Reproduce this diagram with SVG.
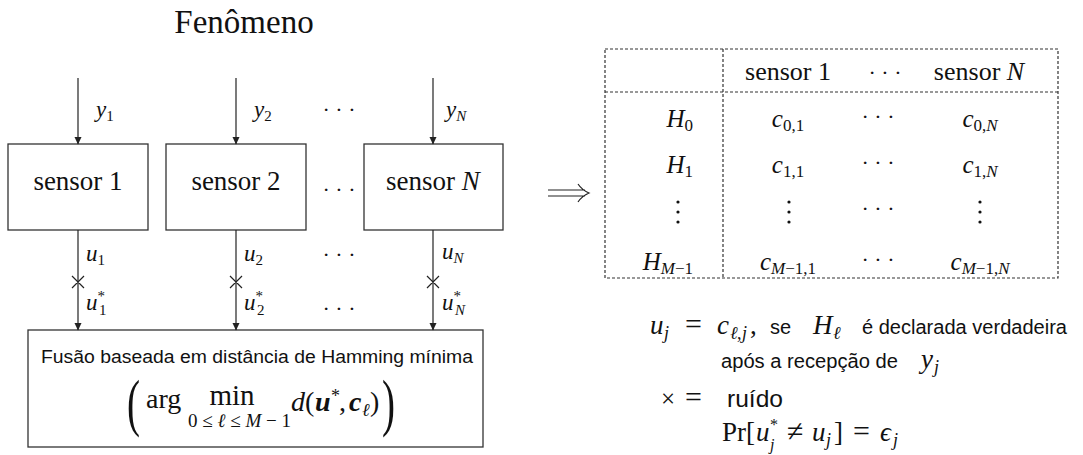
<svg xmlns="http://www.w3.org/2000/svg" width="1083" height="455" viewBox="0 0 1083 455">
<style>
.s{font-family:"Liberation Serif","DejaVu Serif",serif;fill:#111}
.i{font-style:italic}
.a{font-family:"Liberation Sans",Arial,sans-serif;fill:#111}
.box{fill:#fff;stroke:#333;stroke-width:1.3}
.ln{stroke:#222;stroke-width:1.2;fill:none}
.dash{stroke:#333;stroke-width:1.2;fill:none;stroke-dasharray:3,2}
</style>
<defs>
<marker id="ah" markerWidth="8" markerHeight="8" refX="7" refY="4" orient="auto" markerUnits="userSpaceOnUse">
<path d="M0,0.5 L7.5,4 L0,7.5 Z" fill="#222"/>
</marker>
</defs>
<rect width="1083" height="455" fill="#fff"/>

<g id="title"><text class="s" x="244" y="33" font-size="33" text-anchor="middle">Fenômeno</text></g>

<g id="sensor1"><rect class="box" x="8" y="144" width="140" height="86"/><text class="s" x="78" y="190" font-size="27" text-anchor="middle">sensor 1</text></g>
<g id="sensor2"><rect class="box" x="166" y="144" width="140" height="86"/><text class="s" x="236" y="190" font-size="27" text-anchor="middle">sensor 2</text></g>
<g id="sensorN"><rect class="box" x="364" y="144" width="139" height="86"/><text class="s" x="433" y="190" font-size="27" text-anchor="middle">sensor <tspan class="i">N</tspan></text></g>

<g id="fusion">
<rect class="box" x="28" y="330" width="455" height="117"/>
<text class="a" x="41" y="363" font-size="17.5" textLength="432" lengthAdjust="spacingAndGlyphs">Fusão baseada em distância de  Hamming mínima</text>
<text class="s" x="127" y="424" font-size="63" transform="translate(127 0) scale(0.62 1) translate(-127 0)">(</text>
<text class="s" x="146" y="408" font-size="28">arg</text>
<text class="s" x="232" y="405" font-size="29" text-anchor="middle">min</text>
<text class="s" x="188" y="427" font-size="19" textLength="103" lengthAdjust="spacing">0≤<tspan class="i">ℓ</tspan>≤<tspan class="i">M</tspan>−1</text>
<text class="s" font-size="28"><tspan class="i" x="291" y="411">d</tspan><tspan x="305" y="411">(</tspan><tspan class="i" font-weight="bold" x="315" y="411">u</tspan><tspan font-size="18" x="331" y="402">*</tspan><tspan x="339" y="411">,</tspan><tspan class="i" font-weight="bold" x="349" y="411">c</tspan><tspan class="i" font-size="18" x="362" y="416">ℓ</tspan><tspan x="370" y="411">)</tspan></text>
<text class="s" x="382" y="424" font-size="63" transform="translate(382 0) scale(0.62 1) translate(-382 0)">)</text>
</g>

<g id="connectors">
<line class="ln" x1="78" y1="78" x2="78" y2="144" marker-end="url(#ah)"/>
<line class="ln" x1="236" y1="78" x2="236" y2="144" marker-end="url(#ah)"/>
<line class="ln" x1="433" y1="78" x2="433" y2="144" marker-end="url(#ah)"/>
<line class="ln" x1="78" y1="230" x2="78" y2="330" marker-end="url(#ah)"/>
<line class="ln" x1="236" y1="230" x2="236" y2="330" marker-end="url(#ah)"/>
<line class="ln" x1="433" y1="230" x2="433" y2="330" marker-end="url(#ah)"/>
<path class="ln" d="M72,276 L84,288 M84,276 L72,288 M230,276 L242,288 M242,276 L230,288 M427,276 L439,288 M439,276 L427,288"/>
<path class="ln" stroke-width="1.1" d="M548,190 H585 M548,196 H585 M578,184 Q582,190 589,193 Q582,196 578,202"/>
</g>

<g id="labels">
<text class="s i" x="96" y="117" font-size="23">y<tspan font-style="normal" font-size="15" dy="4">1</tspan></text>
<text class="s i" x="254" y="117" font-size="23">y<tspan font-style="normal" font-size="15" dy="4">2</tspan></text>
<text class="s i" x="446" y="117" font-size="23">y<tspan font-size="15" dy="4">N</tspan></text>
<text class="s" x="339" y="117" font-size="22" text-anchor="middle">· · ·</text>
<text class="s" x="339" y="197" font-size="22" text-anchor="middle">· · ·</text>
<text class="s" x="339" y="262" font-size="22" text-anchor="middle">· · ·</text>
<text class="s" x="339" y="316" font-size="22" text-anchor="middle">· · ·</text>
<text class="s i" x="86" y="261" font-size="23">u<tspan font-style="normal" font-size="15" dy="4">1</tspan></text>
<text class="s i" x="244" y="261" font-size="23">u<tspan font-style="normal" font-size="15" dy="4">2</tspan></text>
<text class="s i" x="442" y="259" font-size="23">u<tspan font-size="15" dy="4">N</tspan></text>
<text class="s i" x="86" y="310" font-size="23">u<tspan font-style="normal" font-size="15" dy="-9">*</tspan><tspan font-style="normal" font-size="15" dx="-6" dy="14">1</tspan></text>
<text class="s i" x="244" y="310" font-size="23">u<tspan font-style="normal" font-size="15" dy="-9">*</tspan><tspan font-style="normal" font-size="15" dx="-6" dy="14">2</tspan></text>
<text class="s i" x="442" y="310" font-size="23">u<tspan font-style="normal" font-size="15" dy="-9">*</tspan><tspan font-size="15" dx="-6" dy="14">N</tspan></text>
</g>

<g id="table">
<rect class="dash" x="605" y="49" width="453" height="229"/>
<line class="dash" x1="723" y1="49" x2="723" y2="278"/>
<line class="dash" x1="605" y1="92" x2="1058" y2="92"/>
<text class="s" x="788" y="80" font-size="26" text-anchor="middle">sensor 1</text>
<text class="s" x="885" y="80" font-size="22" text-anchor="middle">· · ·</text>
<text class="s" x="979" y="80" font-size="26" text-anchor="middle">sensor <tspan class="i">N</tspan></text>
<text class="s" x="693" y="127" font-size="25" text-anchor="end"><tspan class="i">H</tspan><tspan font-size="17" dy="4">0</tspan></text>
<text class="s" x="693" y="173" font-size="25" text-anchor="end"><tspan class="i">H</tspan><tspan font-size="17" dy="4">1</tspan></text>
<text class="s" x="693" y="270" font-size="25" text-anchor="end"><tspan class="i">H</tspan><tspan class="i" font-size="17" dy="4">M</tspan><tspan font-size="17">−1</tspan></text>
<text class="s" x="788" y="127" font-size="25" text-anchor="middle"><tspan class="i">c</tspan><tspan font-size="17" dy="4">0,1</tspan></text>
<text class="s" x="788" y="173" font-size="25" text-anchor="middle"><tspan class="i">c</tspan><tspan font-size="17" dy="4">1,1</tspan></text>
<text class="s" x="788" y="270" font-size="25" text-anchor="middle"><tspan class="i">c</tspan><tspan class="i" font-size="17" dy="4">M</tspan><tspan font-size="17">−1,1</tspan></text>
<text class="s" x="980" y="127" font-size="25" text-anchor="middle"><tspan class="i">c</tspan><tspan font-size="17" dy="4">0,</tspan><tspan class="i" font-size="17">N</tspan></text>
<text class="s" x="980" y="173" font-size="25" text-anchor="middle"><tspan class="i">c</tspan><tspan font-size="17" dy="4">1,</tspan><tspan class="i" font-size="17">N</tspan></text>
<text class="s" x="980" y="270" font-size="25" text-anchor="middle"><tspan class="i">c</tspan><tspan class="i" font-size="17" dy="4">M</tspan><tspan font-size="17">−1,</tspan><tspan class="i" font-size="17">N</tspan></text>
<text class="s" x="878" y="124" font-size="22" text-anchor="middle">· · ·</text>
<text class="s" x="878" y="170" font-size="22" text-anchor="middle">· · ·</text>
<text class="s" x="878" y="216" font-size="22" text-anchor="middle">· · ·</text>
<text class="s" x="878" y="267" font-size="22" text-anchor="middle">· · ·</text>
<g fill="#111"><circle cx="678" cy="202" r="1.6"/><circle cx="678" cy="212" r="1.6"/><circle cx="678" cy="222" r="1.6"/><circle cx="789" cy="202" r="1.6"/><circle cx="789" cy="212" r="1.6"/><circle cx="789" cy="222" r="1.6"/><circle cx="980" cy="202" r="1.6"/><circle cx="980" cy="212" r="1.6"/><circle cx="980" cy="222" r="1.6"/></g>
</g>

<g id="legend">
<text class="s" font-size="27"><tspan class="i" x="650" y="334">u</tspan><tspan class="i" font-size="18" x="664" y="339">j</tspan><tspan font-size="30" x="685" y="334">=</tspan><tspan class="i" x="717" y="334">c</tspan><tspan class="i" font-size="18" x="730" y="339">ℓ</tspan><tspan font-size="18" x="737" y="339">,</tspan><tspan class="i" font-size="18" x="742" y="339">j</tspan><tspan x="750" y="334">,</tspan></text>
<text class="a" x="770" y="334" font-size="20">se</text>
<text class="s i" font-size="27"><tspan x="813" y="334">H</tspan><tspan font-size="18" x="833" y="339">ℓ</tspan></text>
<text class="a" x="862" y="334" font-size="20" textLength="205" lengthAdjust="spacingAndGlyphs">é declarada verdadeira</text>
<text class="a" x="721" y="368" font-size="20" textLength="177" lengthAdjust="spacingAndGlyphs">após a recepção de</text>
<text class="s i" font-size="27"><tspan x="921" y="368">y</tspan><tspan font-size="18" x="934" y="373">j</tspan></text>
<text class="s" font-size="25"><tspan x="661" y="407">×</tspan><tspan font-size="30" x="685" y="407">=</tspan></text>
<text class="a" x="727" y="407" font-size="24" textLength="56" lengthAdjust="spacingAndGlyphs">ruído</text>
<text class="s" font-size="27"><tspan x="722" y="441">Pr[</tspan><tspan class="i" x="756" y="441">u</tspan><tspan font-size="16" x="770" y="430">*</tspan><tspan class="i" font-size="16" x="770" y="450">j</tspan><tspan font-size="30" x="787" y="441">≠</tspan><tspan class="i" x="812" y="441">u</tspan><tspan class="i" font-size="18" x="826" y="446">j</tspan><tspan x="834" y="441">]</tspan><tspan font-size="30" x="853" y="441">=</tspan><tspan class="i" x="880" y="441">ϵ</tspan><tspan class="i" font-size="18" x="893" y="446">j</tspan></text>
</g>
</svg>
